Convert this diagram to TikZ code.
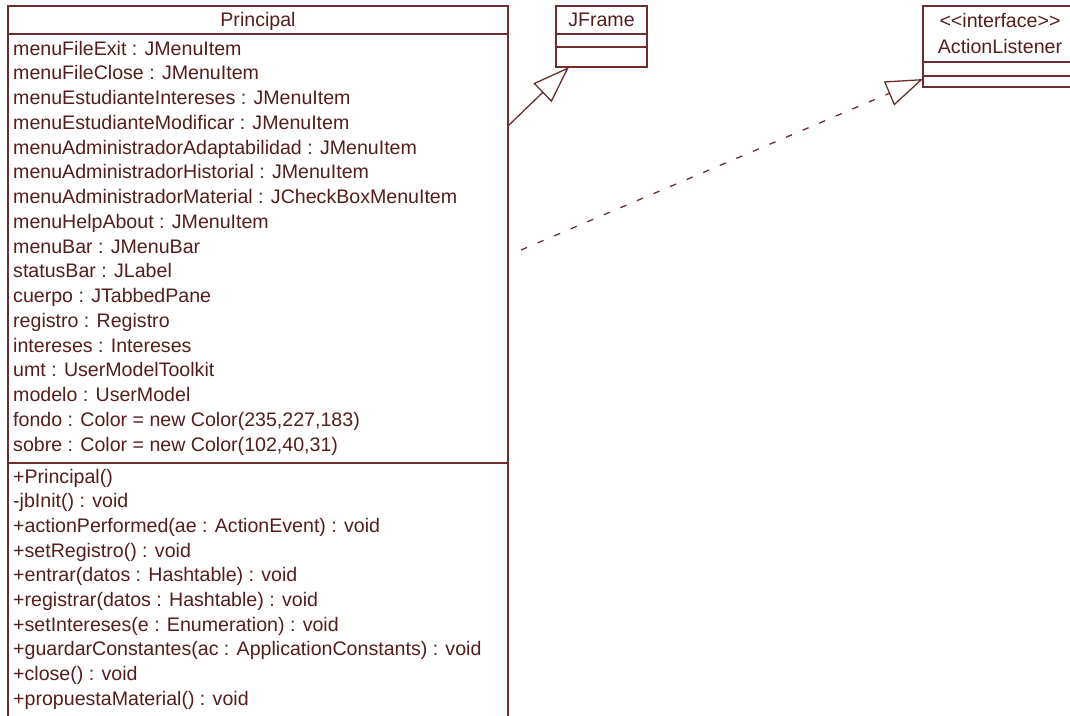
\documentclass[tikz,border=0pt]{standalone}
\usepackage{fontspec}
\setmainfont{Liberation Sans}
\usetikzlibrary{arrows.meta,calc}
\definecolor{umlline}{RGB}{110,45,45}
\definecolor{umltext}{RGB}{85,30,30}
\begin{document}
\begin{tikzpicture}[x=1pt,y=-1pt,
  box/.style={draw=umlline, line width=1.5pt, inner sep=0pt, outer sep=0pt, anchor=north west},
  sep/.style={draw=umlline, line width=1.5pt},
  txt/.style={text=umltext, font=\fontsize{19.6}{24}\selectfont, inner sep=0pt, anchor=base west},
  ctxt/.style={txt, anchor=base},
  gen/.style={draw=umlline, line width=1.3pt, -{Triangle[open, length=37pt, width=26pt, fill=white]}},
  real/.style={gen, dash pattern=on 6.5pt off 11.5pt}]
\useasboundingbox (0,0) rectangle (1070,715);
\clip (0,0) rectangle (1070,715);
\fill[white] (0,0) rectangle (1070,715);

% Principal class
\node[box, minimum width=500pt, minimum height=740pt] (principal) at (8,6) {};
\draw[sep] (8,34) -- (508,34);
\draw[sep] (8,463) -- (508,463);
\node[ctxt] (ptitle) at (258,26) {Principal};
\foreach \t [count=\i from 0] in {
  {menuFileExit : JMenuItem},
  {menuFileClose : JMenuItem},
  {menuEstudianteIntereses : JMenuItem},
  {menuEstudianteModificar : JMenuItem},
  {menuAdministradorAdaptabilidad : JMenuItem},
  {menuAdministradorHistorial : JMenuItem},
  {menuAdministradorMaterial : JCheckBoxMenuItem},
  {menuHelpAbout : JMenuItem},
  {menuBar : JMenuBar},
  {statusBar : JLabel},
  {cuerpo : JTabbedPane},
  {registro : Registro},
  {intereses : Intereses},
  {umt : UserModelToolkit},
  {modelo : UserModel},
  {fondo : Color = new Color(235,227,183)},
  {sobre : Color = new Color(102,40,31)}}
  \node[txt] (attr\i) at (13,55+24.75*\i) {\t};
\foreach \t [count=\i from 0] in {
  {+Principal()},
  {-jbInit() : void},
  {+actionPerformed(ae : ActionEvent) : void},
  {+setRegistro() : void},
  {+entrar(datos : Hashtable) : void},
  {+registrar(datos : Hashtable) : void},
  {+setIntereses(e : Enumeration) : void},
  {+guardarConstantes(ac : ApplicationConstants) : void},
  {+close() : void},
  {+propuestaMaterial() : void}}
  \node[txt] (meth\i) at (13,483+24.67*\i) {\t};

% JFrame class
\node[box, minimum width=91pt, minimum height=61pt] (jframe) at (556,6) {};
\draw[sep] (556,34) -- (647,34);
\draw[sep] (556,47) -- (647,47);
\node[ctxt] (jtitle) at (601.5,26) {JFrame};

% ActionListener interface
\node[box, minimum width=154pt, minimum height=81pt] (al) at (923,6) {};
\draw[sep] (923,62) -- (1077,62);
\draw[sep] (923,76) -- (1077,76);
\node[ctxt] (alstereo) at (1000,27) {<\kern0pt<interface>\kern0pt>};
\node[ctxt] (altitle) at (1000,53) {ActionListener};

% Generalization
\draw[gen] (principal.east |- 0,126) -- ($(jframe.south west)+(13,0)$);
% Realization
\coordinate (realstart) at (521,250);
\draw[real] (realstart) -- (al.west |- 0,79);
\end{tikzpicture}
\end{document}
